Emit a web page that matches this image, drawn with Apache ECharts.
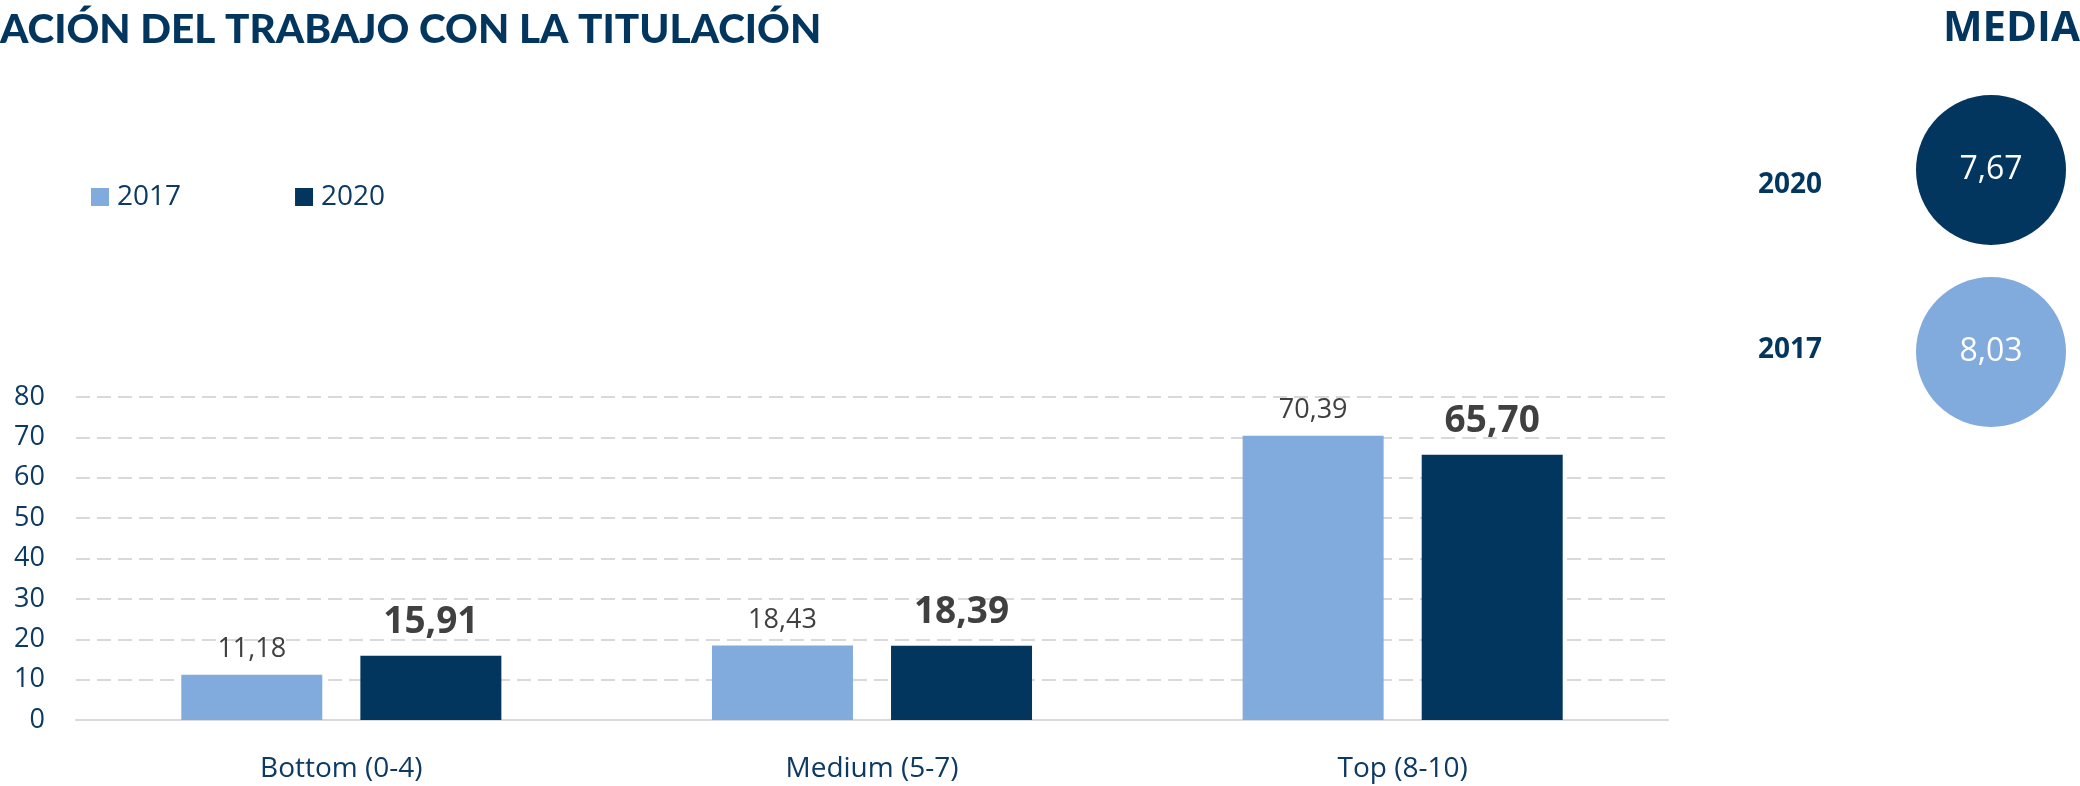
<!DOCTYPE html>
<html>
<head>
<meta charset="utf-8">
<script src="https://cdn.jsdelivr.net/npm/echarts@6/dist/echarts.min.js"></script>
<style>
  html, body { margin: 0; padding: 0; background: #fff; }
  #chart { width: 2080px; height: 786px; }
</style>
</head>
<body>
<div id="chart"></div>
<script>
// datos
const categories = ['Bottom (0-4)', 'Medium (5-7)', 'Top (8-10)'];
const values2017 = [11.18, 18.43, 70.39];
const values2020 = [15.91, 18.39, 65.70];
const mediaYears = ['2017', '2020'];
const mediaValues = [8.03, 7.67];

const NAVY = '#03365f';
const LIGHT = '#82abdd';
const TEXT = '#0d3a63';
const FONT = '"Open Sans", "Noto Sans", sans-serif';

const fmt = v => v.toFixed(2).replace('.', ',');

const chart = echarts.init(document.getElementById('chart'));

const option = {
  backgroundColor: '#fff',
  animation: false,
  title: [
    {
      text: 'ACIÓN DEL TRABAJO CON LA TITULACIÓN',
      left: 0,
      top: 9,
      padding: 0,
      textStyle: { fontFamily: 'Lato, sans-serif', fontSize: 40.5, fontWeight: 900, color: NAVY }
    },
    {
      text: 'MEDIA',
      right: 0,
      top: 8,
      padding: 0,
      textStyle: { fontFamily: FONT, fontSize: 42, fontWeight: 'bold', color: NAVY }
    }
  ],
  legend: {
    data: ['2017', '2020'],
    left: 91,
    top: 183,
    padding: 0,
    icon: 'rect',
    itemWidth: 18,
    itemHeight: 18,
    itemGap: 114,
    textStyle: { fontFamily: FONT, fontSize: 28, color: TEXT, padding: [0, 0, 0, 3] }
  },
  grid: [
    { left: 76, right: 412, top: 397, bottom: 66 },
    { left: 1916, right: 14, top: 79, height: 364 }
  ],
  xAxis: [
    {
      type: 'category',
      gridIndex: 0,
      data: categories,
      axisTick: { show: false },
      axisLine: { lineStyle: { color: '#d9d9d9', width: 2 } },
      axisLabel: { fontFamily: FONT, fontSize: 28, color: TEXT, margin: 35 }
    },
    {
      type: 'category',
      gridIndex: 1,
      data: ['MEDIA'],
      show: false
    }
  ],
  yAxis: [
    {
      type: 'value',
      gridIndex: 0,
      min: 0,
      max: 80,
      interval: 10,
      axisLine: { show: false },
      axisTick: { show: false },
      axisLabel: { fontFamily: FONT, fontSize: 27, color: TEXT, margin: 31 },
      splitLine: { lineStyle: { color: '#d9d9d9', width: 2, type: [14, 7] } }
    },
    {
      type: 'category',
      gridIndex: 1,
      data: mediaYears,
      axisLine: { show: false },
      axisTick: { show: false },
      axisLabel: {
        fontFamily: FONT, fontSize: 28, fontWeight: 'bold', color: NAVY, margin: 94,
        formatter: v => v === '2020' ? '{d|' + v + '}' : '{u|' + v + '}',
        rich: {
          d: { fontFamily: FONT, fontSize: 28, fontWeight: 'bold', color: NAVY, padding: [30, 0, 0, 0] },
          u: { fontFamily: FONT, fontSize: 28, fontWeight: 'bold', color: NAVY, padding: [0, 0, 4, 0] }
        }
      },
      splitLine: { show: false }
    }
  ],
  series: [
    {
      name: '2017',
      type: 'bar',
      data: values2017,
      barWidth: 141,
      barGap: '27%',
      itemStyle: { color: LIGHT },
      label: {
        show: true,
        position: 'top',
        distance: 12,
        formatter: p => fmt(p.value),
        fontFamily: FONT,
        fontSize: 27,
        color: '#404040'
      }
    },
    {
      name: '2020',
      type: 'bar',
      data: values2020,
      barWidth: 141,
      itemStyle: { color: NAVY },
      label: {
        show: true,
        position: 'top',
        distance: 15,
        formatter: p => fmt(p.value),
        fontFamily: FONT,
        fontSize: 37,
        fontWeight: 'bold',
        color: '#404040'
      }
    },
    {
      name: 'media',
      type: 'scatter',
      xAxisIndex: 1,
      yAxisIndex: 1,
      symbol: 'circle',
      symbolSize: 150,
      data: mediaYears.map((y, i) => ({
        value: ['MEDIA', y, mediaValues[i]],
        itemStyle: { color: y === '2020' ? NAVY : LIGHT, opacity: 1 }
      })),
      itemStyle: { opacity: 1 },
      label: {
        show: true,
        position: 'inside',
        formatter: p => fmt(p.value[2]),
        fontFamily: FONT,
        fontSize: 32,
        color: '#fff'
      }
    }
  ]
};

chart.setOption(option);
</script>
</body>
</html>
